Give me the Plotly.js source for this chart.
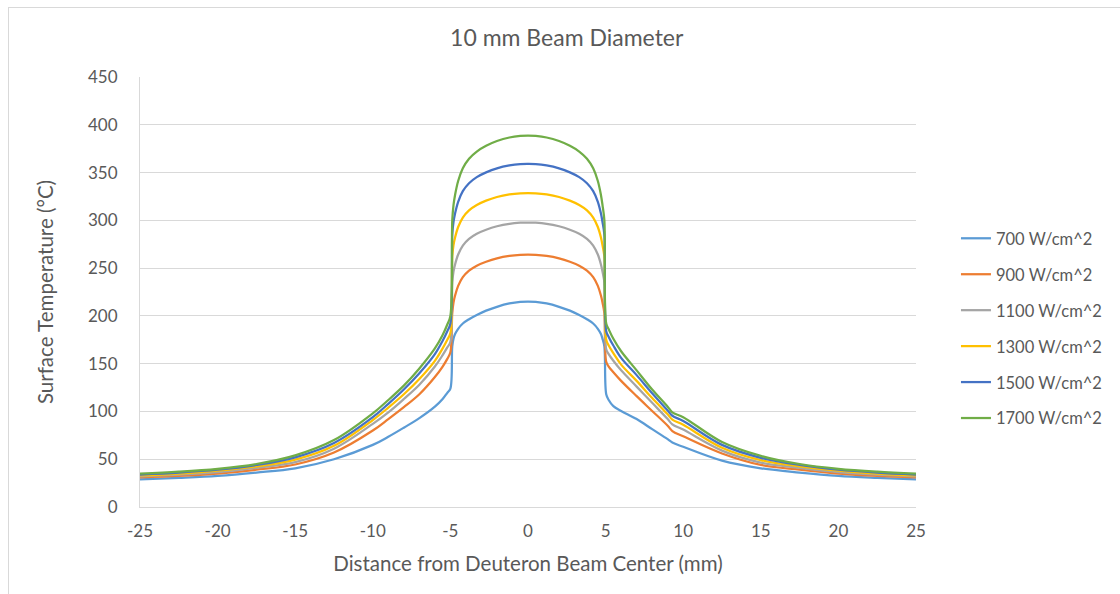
<!DOCTYPE html>
<html>
<head>
<meta charset="utf-8">
<script src="https://cdn.plot.ly/plotly-3.0.1.min.js"></script>
<style>
  html, body { margin: 0; padding: 0; background: #ffffff; }
  #frame { position: absolute; left: 8px; top: 7px; width: 1130px; height: 620px;
           border-left: 1px solid #d9d9d9; border-top: 1px solid #d9d9d9; pointer-events: none; z-index: 5; }
  #chart { position: absolute; left: 0; top: 0; width: 1120px; height: 594px; }
</style>
</head>
<body>
<div id="chart"></div>
<div id="frame"></div>
<script>
// Distance from deuteron beam center (mm)
const distance = [-25, -22.5, -20, -17.5, -15, -12.5, -10, -9, -8, -7, -6, -5.5, -5.2, -5,
                  -4.88, -4.8, -4.7, -4.5, -4.2, -3.8, -3.3, -2.7, -2, -1.2, -0.5, 0,
                  0.5, 1.2, 2, 2.7, 3.3, 3.8, 4.2, 4.5, 4.7, 4.8, 4.92,
                  5.04, 5.2, 5.5, 6, 7, 8, 9, 9.3, 10, 12.5, 15, 17.5, 20, 22.5, 25];

// Surface temperature (°C) per heat flux
const temp700  = [29, 30.5, 32.5, 36, 40.5, 50, 65, 73.5, 83, 93, 105, 113, 119.5, 124,
                  168, 176, 181, 186.5, 192, 196.5, 201, 205.5, 209.5, 213, 214.7, 215,
                  214.7, 213, 209.5, 205.5, 201, 196.5, 192, 186.5, 181, 176, 168,
                  118, 112, 105.5, 100.5, 92, 81.5, 71, 67.5, 63, 48.5, 40.5, 36, 32.5, 30.5, 29];
const temp900  = [31, 32.5, 35, 39, 44.5, 57, 80, 92, 104.5, 118, 136, 147, 155, 162,
                  203, 214, 221.3, 231.4, 240.5, 247.4, 252.6, 256.7, 260.2, 262.7, 263.8, 264,
                  263.8, 262.7, 260.2, 256.7, 252.6, 247.4, 240.5, 231.4, 221.3, 214, 203,
                  152, 147, 141, 132, 116, 100.5, 85, 79.5, 74, 56, 44, 39, 35, 32.5, 31];
const temp1100 = [32, 34, 36.5, 41, 47, 61, 87, 99, 113, 128, 147, 159, 167, 173,
                  235, 246.3, 253.8, 264.2, 273.6, 280.6, 286, 290.2, 293.8, 296.4, 297.5, 297.7,
                  297.5, 296.4, 293.8, 290.2, 286, 280.6, 273.6, 264.2, 253.8, 246.3, 235,
                  165, 160, 153, 143, 126, 109, 92, 86.5, 81, 59, 46.5, 41, 36.5, 34, 32];
const temp1300 = [33, 35, 38, 42.5, 49.5, 64, 91, 104, 118, 134, 153, 166, 175, 182,
                  262, 274, 282, 293, 302.9, 310.4, 316, 320.6, 324.4, 327.1, 328.3, 328.5,
                  328.3, 327.1, 324.4, 320.6, 316, 310.4, 302.9, 293, 282, 274, 262,
                  175, 169, 161, 149, 132, 114, 97, 91.5, 86, 62, 49, 42.5, 38, 35, 33];
const temp1500 = [34, 36, 39, 44, 52, 67, 94, 108, 123, 140, 160, 174, 184, 192,
                  285, 298.3, 307.2, 319.4, 330.5, 338.8, 345.2, 350.2, 354.4, 357.4, 358.8, 359,
                  358.8, 357.4, 354.4, 350.2, 345.2, 338.8, 330.5, 319.4, 307.2, 298.3, 285,
                  184, 178, 169, 156, 138, 119, 101, 95.5, 90, 65, 51.5, 44, 39, 36, 34];
const temp1700 = [35, 37, 40, 45, 54, 70, 98, 112, 127, 145, 166, 180, 191, 200,
                  300, 316, 326.6, 341.2, 354.5, 364.5, 372, 378, 383, 386.7, 388.3, 388.6,
                  388.3, 386.7, 383, 378, 372, 364.5, 354.5, 341.2, 326.6, 316, 300,
                  192, 186, 176, 163, 143, 123, 105, 99, 94, 68, 53.5, 45, 40, 37, 35];

const seriesNames = ["700 W/cm^2", "900 W/cm^2", "1100 W/cm^2", "1300 W/cm^2", "1500 W/cm^2", "1700 W/cm^2"];
const seriesColors = ["#5B9BD5", "#ED7D31", "#A5A5A5", "#FFC000", "#4472C4", "#70AD47"];
const seriesValues = [temp700, temp900, temp1100, temp1300, temp1500, temp1700];

const xTickVals = [-25, -20, -15, -10, -5, 0, 5, 10, 15, 20, 25];
const xTickText = ["-25", "-20", "-15", "-10", "-5", "0", "5", "10", "15", "20", "25"];
const yTickVals = [0, 50, 100, 150, 200, 250, 300, 350, 400, 450];

const FONT = "Lato, 'Open Sans', 'Liberation Sans', sans-serif";
const GREY = "#595959";

const traces = seriesValues.map((vals, i) => ({
  type: "scatter",
  mode: "lines",
  x: distance,
  y: vals,
  name: seriesNames[i],
  legendgroup: "g" + i,
  line: { color: seriesColors[i], width: 2.25, shape: "spline", smoothing: 1 },
  hoverinfo: "x+y+name"
}));

const layout = {
  width: 1120,
  height: 594,
  margin: { l: 140, r: 204, t: 77, b: 87 },
  paper_bgcolor: "#ffffff",
  plot_bgcolor: "#ffffff",
  font: { family: FONT, size: 17, color: GREY },
  title: {
    text: "10 mm Beam Diameter",
    font: { family: FONT, size: 23, color: GREY },
    x: 0.506, xanchor: "center", y: 0.936, yanchor: "middle"
  },
  xaxis: {
    range: [-25, 25],
    tickvals: xTickVals,
    ticktext: xTickText,
    showgrid: false,
    zeroline: false,
    showline: true,
    linecolor: "#d9d9d9",
    linewidth: 1,
    ticks: "",
    ticklabelstandoff: 9,
    tickfont: { family: FONT, size: 17, color: GREY },
    title: { text: "Distance from Deuteron Beam Center (mm)", font: { family: FONT, size: 20.5, color: GREY }, standoff: 16 }
  },
  yaxis: {
    range: [0, 450],
    tickvals: yTickVals,
    showgrid: true,
    gridcolor: "#d9d9d9",
    gridwidth: 1,
    zeroline: false,
    showline: true,
    linecolor: "#d9d9d9",
    linewidth: 1,
    ticks: "",
    ticklabelstandoff: 18,
    tickfont: { family: FONT, size: 17, color: GREY },
    title: { text: "Surface Temperature (°C)", font: { family: FONT, size: 20.5, color: GREY }, standoff: 28 }
  },
  legend: {
    x: 1.0515, xanchor: "left",
    y: 0.665, yanchor: "top",
    font: { family: FONT, size: 16.5, color: GREY },
    bgcolor: "rgba(0,0,0,0)",
    tracegroupgap: 11.5,
    itemwidth: 30
  },
  showlegend: true
};

Plotly.newPlot("chart", traces, layout, { displayModeBar: false, staticPlot: true });
</script>
</body>
</html>
